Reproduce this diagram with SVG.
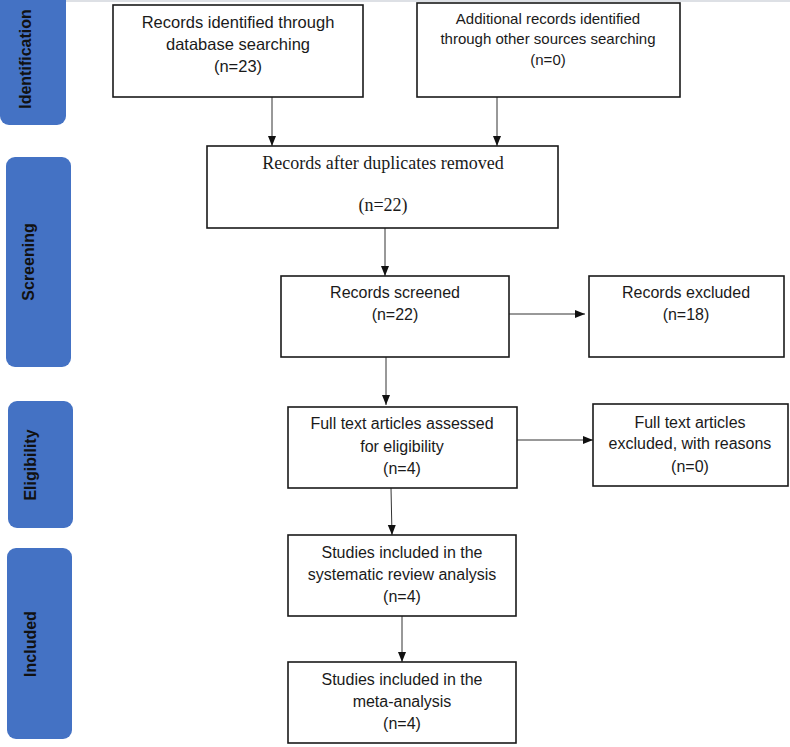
<svg xmlns="http://www.w3.org/2000/svg" width="790" height="747" viewBox="0 0 790 747">
<style>
.tab{fill:#4472C4;}
.tabt{font-family:"Liberation Sans",Arial,sans-serif;font-weight:bold;font-size:16px;fill:#111;text-anchor:middle;}
.box{fill:#fff;stroke:#1a1a1a;stroke-width:1.6;}
.t{font-family:"Liberation Sans",Arial,sans-serif;font-size:16px;fill:#1a1a1a;text-anchor:middle;}
.ts{font-family:"Liberation Serif","Times New Roman",serif;font-size:18px;fill:#1a1a1a;text-anchor:middle;}
.c{stroke:#333;stroke-width:1;fill:none;marker-end:url(#ah);}
</style>
<defs>
<marker id="ah" markerUnits="userSpaceOnUse" markerWidth="10" markerHeight="10" viewBox="0 0 10 10" refX="10" refY="5" orient="auto">
<path d="M0,1 L10,5 L0,9 Z" fill="#111"/>
</marker>
</defs>
<rect width="790" height="747" fill="#fff"/>
<line x1="66" y1="1" x2="790" y2="1" stroke="#dde0e5" stroke-width="2"/>

<g id="tab-identification">
<rect class="tab" x="0" y="-12" width="66" height="137" rx="9"/>
<text class="tabt" transform="translate(31,59) rotate(-90)">Identification</text>
</g>
<g id="tab-screening">
<rect class="tab" x="6" y="157" width="65" height="210" rx="9"/>
<text class="tabt" transform="translate(34,262) rotate(-90)">Screening</text>
</g>
<g id="tab-eligibility">
<rect class="tab" x="8" y="401" width="65" height="127" rx="9"/>
<text class="tabt" transform="translate(36,465) rotate(-90)">Eligibility</text>
</g>
<g id="tab-included">
<rect class="tab" x="7" y="548" width="65" height="191" rx="9"/>
<text class="tabt" transform="translate(36,644) rotate(-90)">Included</text>
</g>

<g id="connectors">
<line class="c" x1="272" y1="97" x2="272" y2="146"/>
<line class="c" x1="497" y1="97" x2="497" y2="146"/>
<line class="c" x1="385" y1="228" x2="385" y2="276"/>
<line class="c" x1="509" y1="314" x2="585" y2="314"/>
<line class="c" x1="386" y1="357" x2="386" y2="405"/>
<line class="c" x1="517" y1="440" x2="593" y2="440"/>
<line class="c" x1="391" y1="488" x2="392" y2="535"/>
<line class="c" x1="402" y1="616" x2="402" y2="662"/>
</g>

<g id="n1">
<rect class="box" x="113" y="5" width="250" height="92"/>
<text class="t" style="font-size:16.5px" x="238" y="28">Records identified through</text>
<text class="t" style="font-size:16.5px" x="238" y="50">database searching</text>
<text class="t" style="font-size:16.5px" x="238" y="72">(n=23)</text>
</g>
<g id="n2">
<rect class="box" x="417" y="3" width="263" height="94"/>
<text class="t" style="font-size:15px" x="548" y="24">Additional records identified</text>
<text class="t" style="font-size:15px" x="548" y="44">through other sources searching</text>
<text class="t" style="font-size:15px" x="548" y="65">(n=0)</text>
</g>
<g id="n3">
<rect class="box" x="207" y="146" width="351" height="82"/>
<text class="ts" x="383" y="169">Records after duplicates removed</text>
<text class="ts" x="383" y="211">(n=22)</text>
</g>
<g id="n4">
<rect class="box" x="281" y="276" width="228" height="81"/>
<text class="t" x="395" y="298">Records screened</text>
<text class="t" x="395" y="320">(n=22)</text>
</g>
<g id="n5">
<rect class="box" x="589" y="276" width="195" height="81"/>
<text class="t" x="686" y="298">Records excluded</text>
<text class="t" x="686" y="320">(n=18)</text>
</g>
<g id="n6">
<rect class="box" x="288" y="407" width="229" height="81"/>
<text class="t" x="402" y="429">Full text articles assessed</text>
<text class="t" x="402" y="452">for eligibility</text>
<text class="t" x="402" y="474">(n=4)</text>
</g>
<g id="n7">
<rect class="box" x="593" y="404" width="195" height="82"/>
<text class="t" x="690" y="428">Full text articles</text>
<text class="t" x="690" y="449">excluded, with reasons</text>
<text class="t" x="690" y="472">(n=0)</text>
</g>
<g id="n8">
<rect class="box" x="288" y="535" width="228" height="81"/>
<text class="t" x="402" y="558">Studies included in the</text>
<text class="t" x="402" y="580">systematic review analysis</text>
<text class="t" x="402" y="602">(n=4)</text>
</g>
<g id="n9">
<rect class="box" x="288" y="662" width="228" height="81"/>
<text class="t" x="402" y="685">Studies included in the</text>
<text class="t" x="402" y="707">meta-analysis</text>
<text class="t" x="402" y="729">(n=4)</text>
</g>
</svg>
